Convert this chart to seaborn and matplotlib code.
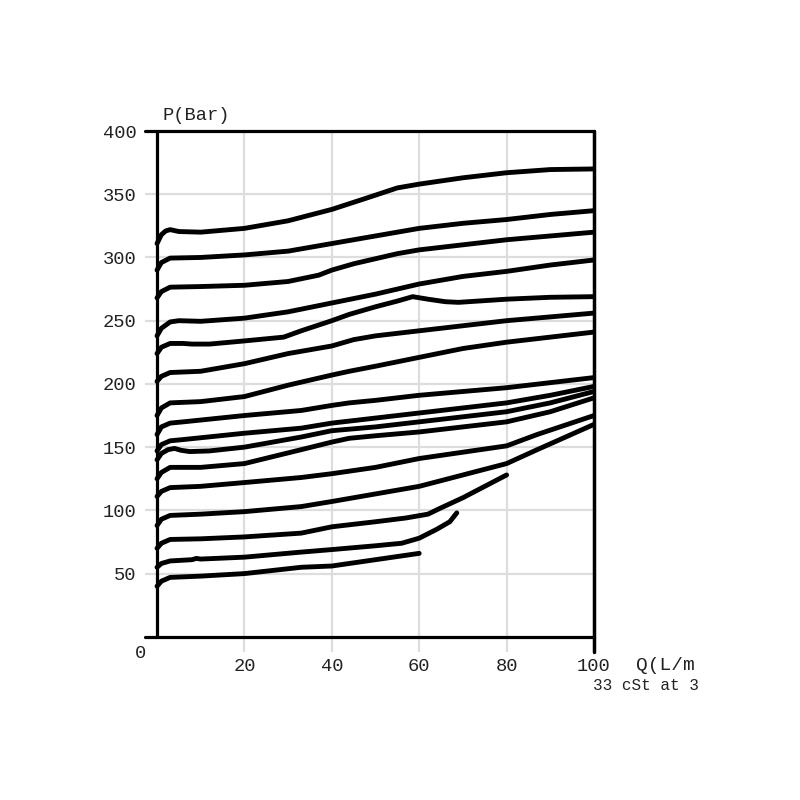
"""
Pump pressure vs. flow characteristic curves (P in bar against Q in L/min),
redrawn as a plain black line chart with a light grid.
"""

import matplotlib
matplotlib.use("Agg")
import matplotlib.pyplot as plt
import seaborn as sns

# --- curve data (Q in L/min, P in bar) ---
Q_1 = [0, 1, 2, 3, 5, 10, 20, 30, 40, 48, 55, 60, 70, 80, 90, 100]
P_1 = [311, 318, 321, 322, 320.5, 320, 323, 329, 338, 347, 355, 358, 363, 367, 369.5, 370]

Q_2 = [0, 1, 3, 10, 20, 30, 40, 50, 55, 60, 70, 80, 90, 100]
P_2 = [290, 296, 299.5, 300, 302, 305, 311, 317, 320, 323, 327, 330, 334, 337]

Q_3 = [0, 1, 3, 10, 20, 30, 37, 40, 45, 50, 55, 60, 70, 80, 90, 100]
P_3 = [268, 273, 276.5, 277, 278, 281, 286, 290, 295, 299, 303, 306, 310, 314, 317, 320]

Q_4 = [0, 1, 3, 5, 10, 20, 30, 40, 50, 60, 70, 80, 90, 100]
P_4 = [238, 244, 249, 250, 249.5, 252, 257, 264, 271, 279, 285, 289, 294, 298]

Q_5 = [0, 1, 3, 6, 8, 12, 20, 29, 33, 40, 44, 50, 55, 58.5, 62, 66, 69, 80, 90, 100]
P_5 = [224, 229, 232, 232, 231.5, 231.5, 234, 237, 242, 250, 255, 261, 265.5, 269, 267, 265, 264.5, 267, 268.5, 269]

Q_6 = [0, 1, 3, 10, 20, 30, 40, 45, 50, 60, 70, 80, 90, 100]
P_6 = [202, 206, 209, 210, 216, 224, 230, 235, 238, 242, 246, 250, 253, 256]

Q_7 = [0, 1, 3, 10, 20, 30, 40, 44, 50, 60, 70, 80, 90, 100]
P_7 = [175, 181, 185, 186, 190, 199, 207, 210, 214, 221, 228, 233, 237, 241]

Q_8 = [0, 1, 3, 6, 20, 33, 40, 44, 50, 60, 70, 80, 90, 100]
P_8 = [160, 166, 169, 170, 175, 179, 183, 185, 187, 191, 194, 197, 201, 205]

Q_9 = [0, 1, 3, 6, 20, 33, 40, 50, 60, 70, 80, 90, 100]
P_9 = [147, 152, 155, 156, 161, 165, 169, 173, 177, 181, 185, 191, 198]

Q_10 = [0, 1, 2.5, 4, 5.5, 7.5, 12, 20, 33, 40, 50, 60, 70, 80, 90, 100]
P_10 = [140, 145, 148, 149, 147.5, 146.5, 147, 150, 158, 163, 166, 170, 174, 178, 185, 194]

Q_11 = [0, 1, 3, 10, 20, 33, 40, 44, 50, 60, 70, 80, 90, 100]
P_11 = [125, 130, 134, 134, 137, 148, 154, 157, 159, 162, 166, 170, 178, 189]

Q_12 = [0, 1, 3, 10, 20, 33, 40, 50, 60, 70, 80, 87, 100]
P_12 = [111, 115, 118, 119, 122, 126, 129, 134, 141, 146, 151, 160, 175]

Q_13 = [0, 1, 3, 10, 20, 33, 40, 50, 60, 70, 80, 87, 100]
P_13 = [88, 93, 96, 97, 99, 103, 107, 113, 119, 128, 137, 148, 168]

Q_14 = [0, 1, 3, 10, 20, 33, 40, 50, 57, 62, 65, 70, 80]
P_14 = [70, 74, 77, 77.5, 79, 82, 87, 91, 94, 97, 102, 110, 128]

Q_15 = [0, 1, 3, 8, 9, 10, 20, 33, 40, 50, 56, 60, 64, 67, 68.6]
P_15 = [55, 58, 60, 61, 62, 61.5, 63, 67, 69, 72, 74, 78, 85, 91, 98]

Q_16 = [0, 1, 3, 10, 20, 33, 40, 50, 60]
P_16 = [40, 44, 47, 48, 50, 55, 56, 61, 66]

CURVES = [(Q_1, P_1), (Q_2, P_2), (Q_3, P_3), (Q_4, P_4), (Q_5, P_5), (Q_6, P_6),
          (Q_7, P_7), (Q_8, P_8), (Q_9, P_9), (Q_10, P_10), (Q_11, P_11), (Q_12, P_12),
          (Q_13, P_13), (Q_14, P_14), (Q_15, P_15), (Q_16, P_16)]

X_TICKS = [20, 40, 60, 80, 100]
Y_TICKS = [50, 100, 150, 200, 250, 300, 350, 400]

sns.set_style("white")
plt.rcParams["font.family"] = ["Liberation Mono", "DejaVu Sans Mono"]

fig = plt.figure(figsize=(8, 8), dpi=100)
# axes box in pixels: left 145, right 594, top 131, bottom 652
ax = fig.add_axes([145 / 800, 148 / 800, 449 / 800, 521 / 800])
ax.set_xlim(-2.75, 100)
ax.set_ylim(-12, 400)

for q, p in CURVES:
    sns.lineplot(x=q, y=p, ax=ax, color="black", lw=3.5, sort=False, estimator=None,
                 solid_capstyle="round", solid_joinstyle="round", zorder=3)

# light grid
ax.set_xticks(X_TICKS)
ax.set_yticks(Y_TICKS)
ax.grid(True, color="#dddddd", lw=1.6, zorder=0)
ax.set_axisbelow(True)

# frame: full-width top/bottom rules, left rule, right rule dropping below the base
for s in ax.spines.values():
    s.set_visible(False)
ax.axhline(400, color="black", lw=2.3, clip_on=False, zorder=4)
ax.axhline(0, color="black", lw=2.3, clip_on=False, zorder=4)
ax.plot([0, 0], [0, 400], color="black", lw=2.3, clip_on=False, zorder=4)
ax.plot([100, 100], [-12, 400], color="black", lw=2.5, clip_on=False, zorder=4)

ax.set_xticklabels([str(v) for v in X_TICKS])
ax.set_yticklabels([str(v) for v in Y_TICKS])
ax.tick_params(axis="both", length=0, labelsize=13.5, colors="#222222")
ax.tick_params(axis="y", pad=6)
ax.tick_params(axis="x", pad=4)

fig.text(163 / 800, 1 - 116 / 800, "P(Bar)", fontsize=13.5, va="center", ha="left", color="#222222")
fig.text(141 / 800, 1 - 654 / 800, "0", fontsize=13.5, va="center", ha="center", color="#222222")
fig.text(636 / 800, 1 - 665 / 800, "Q(L/m", fontsize=14, va="center", ha="left", color="#222222")
fig.text(593 / 800, 1 - 686 / 800, "33 cSt at 3", fontsize=11.5, va="center", ha="left", color="#222222")

plt.savefig("out.png", dpi=100)
plt.close()
